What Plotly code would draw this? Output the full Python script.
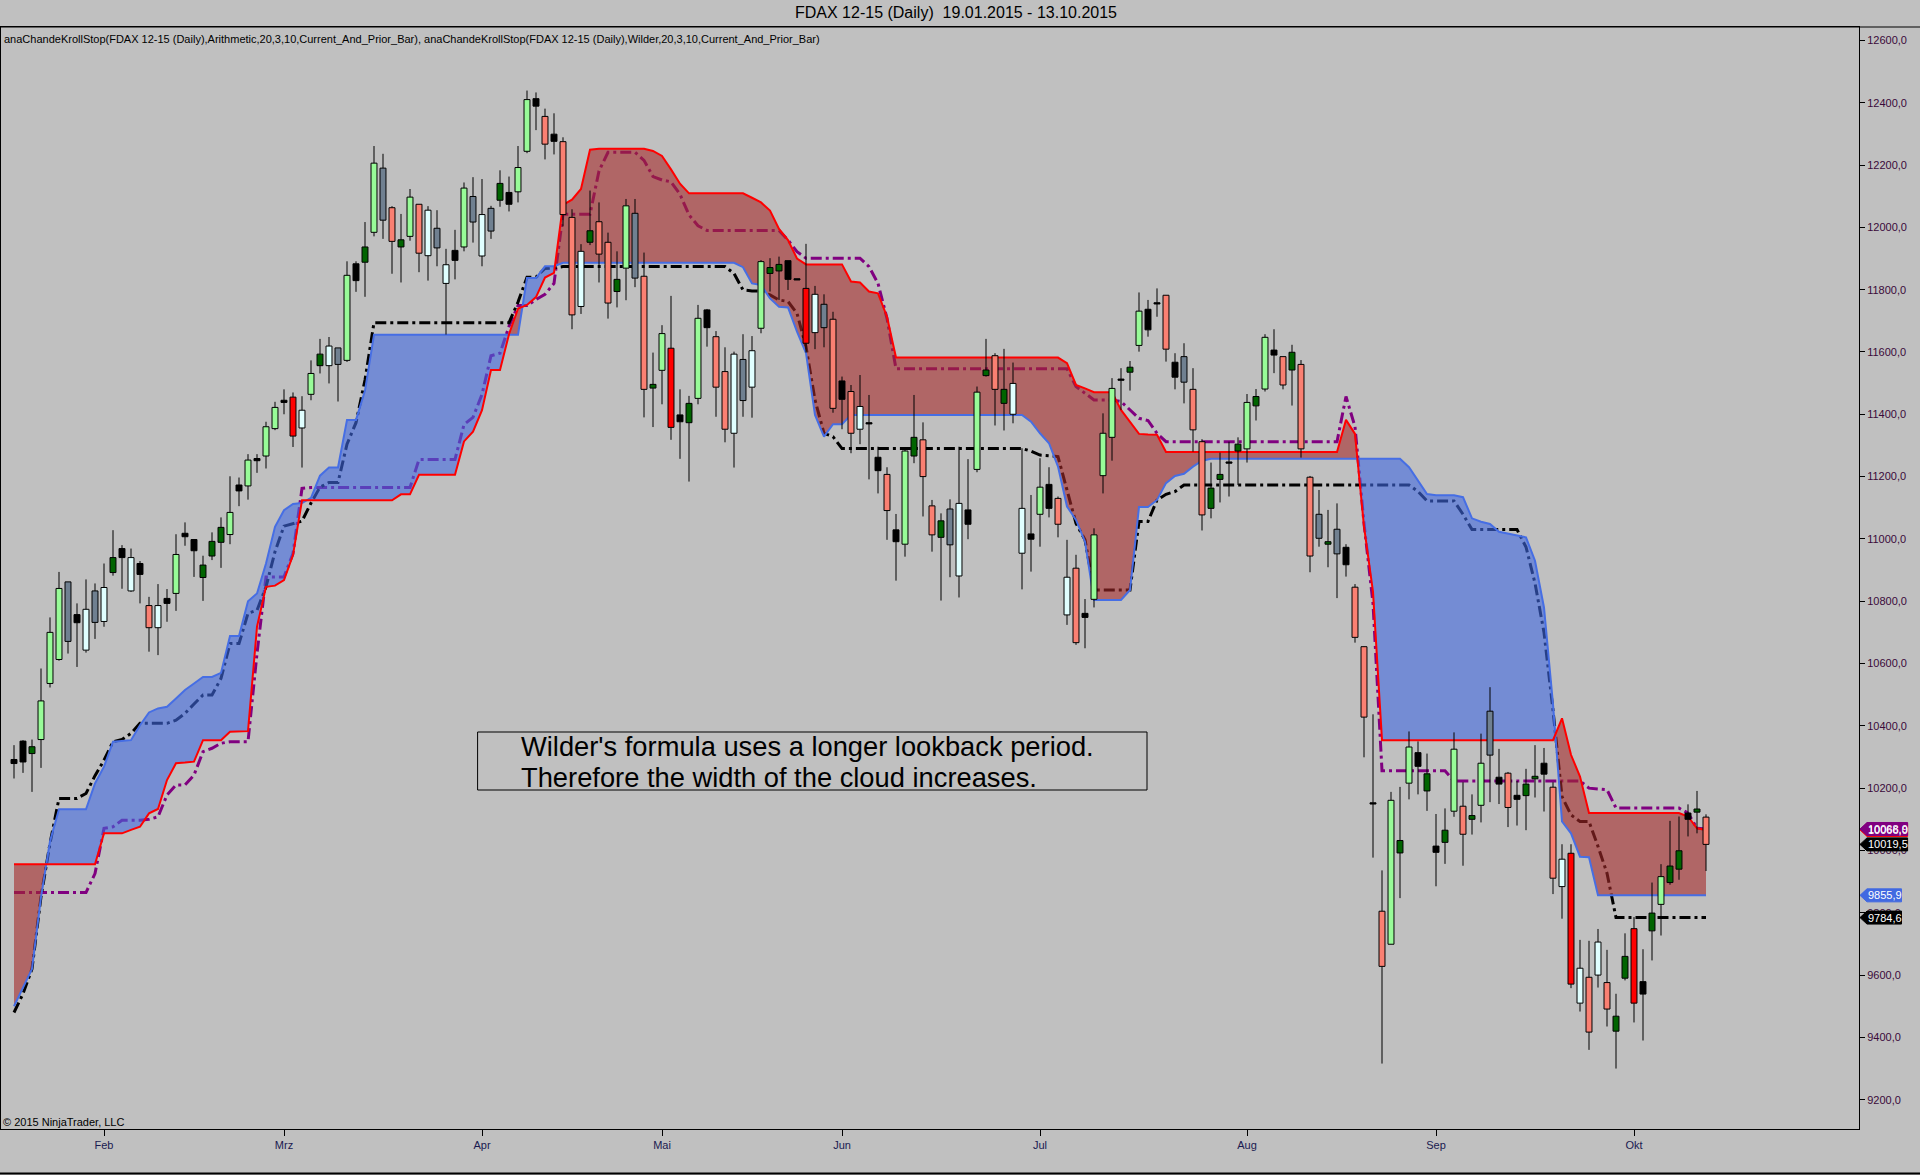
import numpy as np
import pandas as pd
import plotly.graph_objects as go

# ---------------- data ----------------
holidays = ["2015-04-03", "2015-04-06", "2015-05-01"]
dates = pd.bdate_range("2015-01-19", "2015-10-13")
dates = dates[~dates.isin(pd.to_datetime(holidays))]

month_names = {2: "Feb", 3: "Mrz", 4: "Apr", 5: "Mai", 6: "Jun", 7: "Jul", 8: "Aug", 9: "Sep", 10: "Okt"}

# candles: colour class, body top, body bottom, high, low
candle_class = ["k","k","dg","lg","lg","lg","sl","k","cy","sl","cy","dg","k","cy","k","sa","cy","k","lg","k",
 "k","dg","dg","dg","lg","k","lg","k","lg","lg","k","r","cy","lg","dg","cy","sl","lg","k","dg",
 "lg","sl","sa","dg","lg","sa","cy","sl","cy","k","lg","sl","cy","sl","dg","k","lg","lg","k","sa",
 "k","sa","sa","cy","dg","sa","sa","dg","lg","sl","sa","dg","lg","r","k","dg","lg","k","sa","sa",
 "cy","sl","cy","lg","dg","dg","k","k","r","cy","sl","sa","k","sa","cy","k","k","sa","k","lg",
 "dg","sa","sa","dg","sl","cy","k","lg","dg","sa","dg","cy","cy","k","lg","k","sa","cy","sa","k",
 "lg","lg","lg","k","dg","lg","k","k","sa","k","sl","sa","sa","dg","dg","k","dg","lg","dg","lg",
 "k","sa","dg","sa","sa","sl","dg","sl","k","sa","sa","k","sa","lg","dg","lg","k","dg","k","dg",
 "lg","sa","dg","lg","sl","k","sa","k","dg","dg","k","sa","cy","r","cy","sa","cy","sa","dg","dg",
 "r","k","dg","lg","dg","dg","k","dg","sa"]

body_top = [10292,10351,10333,10480,10700,10841,10862,10757,10774,10833,10844,10940,10969,10940,10921,10786,10786,10809,10950,11018,
 10998,10916,10992,11037,11085,11173,11253,11258,11360,11422,11445,11455,11413,11531,11593,11619,11613,11846,11883,11937,
 12206,12190,12063,11960,12097,12074,12055,11997,11880,11926,12126,12099,12041,12061,12141,12112,12192,12410,12413,12356,
 12299,12275,12032,11923,11989,12018,11952,11833,12069,12045,11843,11496,11659,11612,11398,11435,11708,11735,11649,11537,
 11593,11576,11604,11890,11871,11881,11893,11835,11804,11785,11753,11705,11507,11473,11425,11373,11262,11207,11029,11282,
 11326,11318,11106,11058,11096,11114,11093,11471,11542,11588,11480,11499,11098,11016,11166,11175,11130,10877,10906,10761,
 11013,11339,11483,11513,11551,11731,11737,11758,11782,11567,11585,11480,11312,11163,11207,11247,11304,11438,11457,11647,
 11606,11585,11599,11560,11198,11079,10991,11031,10973,10845,10654,10153,9805,10161,10032,10332,10314,10246,10014,10065,
 10325,10142,10112,10280,10447,10235,10248,10177,10213,10238,10280,10203,9972,9991,9622,9593,9706,9576,9468,9660,
 9749,9579,9799,9916,9950,9999,10120,10133,10107]

body_bottom = [10279,10284,10311,10356,10536,10613,10671,10731,10643,10732,10735,10892,10940,10833,10886,10715,10715,10793,10825,11007,
 10962,10876,10945,10989,11014,11154,11170,11251,11266,11354,11438,11330,11356,11464,11556,11556,11560,11573,11829,11888,
 11984,12023,11955,11937,11971,11917,11909,11934,11820,11894,11937,12017,11908,11988,12087,12074,12114,12244,12389,12267,
 12276,12041,11719,11746,11952,11914,11757,11794,11869,11837,11480,11484,11541,11358,11376,11373,11451,11678,11487,11352,
 11339,11444,11487,11676,11852,11860,11833,11831,11628,11662,11678,11419,11448,11339,11352,11369,11219,11091,10991,10983,
 11266,11200,11013,11005,10981,10881,11047,11223,11524,11480,11435,11400,10954,10999,11079,11098,11047,10756,10667,10748,
 10806,11203,11326,11509,11535,11621,11671,11754,11609,11519,11503,11350,11077,11098,11191,11243,11282,11289,11427,11481,
 11590,11494,11542,11289,10945,11002,10983,10952,10917,10684,10428,10149,9628,9699,9992,10216,10270,10191,9994,10026,
 10126,10052,10100,10145,10306,10213,10138,10164,10176,10230,10245,9911,9884,9571,9510,9417,9600,9491,9420,9590,
 9510,9539,9742,9827,9897,9940,10100,10123,10019.5]

highs = [10338,10354,10356,10584,10748,10894,10862,10793,10870,10857,10921,11028,10980,10969,10929,10814,10855,10839,11015,11053,
 10998,10946,11021,11069,11201,11197,11272,11272,11376,11440,11480,11470,11458,11573,11642,11648,11613,11891,11891,12017,
 12261,12236,12068,12043,12123,12074,12068,12055,11931,11992,12144,12161,12155,12069,12183,12163,12261,12439,12433,12381,
 12366,12289,12058,11946,12118,12080,11983,11923,12091,12091,11919,11598,11686,11780,11480,11459,11751,11738,11667,11615,
 11601,11657,11651,11895,11901,11906,11893,11835,11947,11812,11785,11729,11521,11494,11526,11462,11296,11230,11080,11291,
 11462,11374,11125,11082,11127,11296,11256,11489,11642,11596,11610,11566,11291,11141,11259,11230,11136,10997,10949,10807,
 11034,11403,11516,11548,11571,11791,11767,11804,11782,11596,11628,11548,11320,11245,11277,11312,11326,11465,11481,11657,
 11673,11585,11623,11574,11202,11157,11093,11114,10983,10855,10655,10437,9936,10188,10204,10382,10350,10311,10117,10135,
 10379,10219,10180,10375,10524,10326,10252,10223,10262,10338,10329,10219,10020,10020,9713,9710,9748,9681,9540,9734,
 9786,9683,9897,9956,10095,10109,10148,10191,10116]

lows = [10231,10249,10188,10265,10523,10609,10632,10589,10635,10679,10718,10882,10840,10830,10793,10638,10627,10734,10769,10978,
 10878,10801,10932,10907,10983,11105,11126,11212,11226,11349,11400,11295,11229,11445,11531,11499,11441,11568,11793,11777,
 11971,11963,11851,11823,11957,11856,11829,11875,11656,11833,11923,11951,11875,11963,12066,12051,12080,12238,12312,12218,
 12234,12003,11673,11722,11943,11823,11707,11743,11766,11808,11390,11359,11432,11318,11257,11184,11432,11617,11392,11310,
 11229,11392,11389,11660,11794,11767,11799,11831,11598,11609,11615,11405,11352,11275,11304,11191,11146,10997,10866,10943,
 11243,11072,10959,10802,10877,10812,10999,11214,11521,11364,11348,11371,10838,10895,10975,11069,11005,10724,10660,10649,
 10780,11146,11251,11414,11476,11601,11649,11713,11569,11480,11435,11280,11027,11066,11117,11136,11173,11245,11380,11473,
 11532,11480,11428,11261,10893,10975,10909,10810,10879,10667,10299,9977,9316,9699,9847,10164,10180,10127,9885,9957,
 10108,9951,10051,10090,10155,10149,10075,10080,10065,10170,10125,9860,9781,9558,9483,9360,9560,9435,9300,9583,
 9448,9390,9647,9727,9890,9906,10045,10055,9934]

# Arithmetic stop (solid red / blue)
stop_red = ([9956]*10 + [10055,10055,10055,10066,10076,10119,10133,10226,10280,10282,10285,10354,10354,10354,10381,10383,10383,
 10718,10846,10850,10868,10948] + [11124]*11 + [11143,11143] + [11206]*5 +
 [11313,11344,11413,11542,11542,11657,11739,11751,11776,11839,11854,12072,12089,12123,12249] + [12252]*6 +
 [12245,12229,12186,12140] + [12109]*7 + [12095,12080,12054,11995,11959,11900] + [11881]*5 +
 [11826,11823,11794,11788,11713] + [11582]*19 + [11564,11494,11483,11471,11471,11471,11414,11377,11337,11335,11334] +
 [11279]*20 + [11382,11337,11040,10830] + [10354]*20 + [10424,10307,10237] + [10120]*11 + [10109,10071,10066.0])

stop_blue = ([9500,9560,9620,9850,10030,10132,10132,10132,10132,10215,10269,10349,10352,10354,10402,10443,10456,10461,10488,10515,
 10536,10557,10557,10570,10688,10688,10800,10825,10921,11039,11092,11112,11115,11132,11203,11229,11229,11382,11382,11476] +
 [11655]*17 + [11837,11837,11875,11875] + [11886]*20 +
 [11872,11820,11815,11772,11745,11743,11665,11596,11398,11328,11368,11368] + [11398]*20 +
 [11376,11339,11307,11232,11104,11061,10991] + [10804]*4 + [10836,11102,11102,11125,11179,11202,11209,11232,11251] +
 [11257]*22 + [11230,11189,11144,11140,11140,11140,11134,11066,11055,11048,11023,11017,11010,11005,10930,10780,10470,
 10093,10055,9980,9978] + [9855.9]*13)

# Wilder stop (dash-dot purple / black)
stop_purple = ([9865]*9 + [9926,10071,10076,10097,10097,10097,10100,10108,10178,10210,10210,10242,10317,10328,10344,10349,10349,
 10349,10632,10878,10878,10878,10953,11162] + [11165]*12 + [11255]*5 +
 [11367,11390,11464,11588,11596,11682,11749,11749,11768,11785,11820] + [12042]*4 + [12181] + [12241]*4 +
 [12215,12163,12152,12146,12106,12040,12005] + [11990]*9 + [11959,11922] + [11901]*7 + [11874,11820,11708] +
 [11546]*20 + [11489,11467,11446,11446,11446,11441,11414,11387,11380,11339] + [11312]*20 +
 [11457,11360,11050,10793] + [10256]*8 + [10223]*15 + [10200,10197,10195] + [10136]*8 + [10120,10071,10068.9])

stop_black = ([9480,9540,9620,9851,10023,10167,10167,10167,10183,10240,10290,10349,10356,10376,10408,10408,10408,10408,10418,10440,
 10470,10499,10499,10552,10664,10664,10761,10771,10846,10959,11041,11050,11057,11115,11166,11181,11181,11304,11373,11510] +
 [11694]*16 + [11760,11840,11840,11868,11870] + [11874]*19 +
 [11852,11799,11796,11795,11783,11767,11762,11724,11617,11446,11339,11328] + [11290]*21 +
 [11282,11269,11267,11264,11157,11050,10997] + [10836]*5 + [11056,11056,11125,11143,11152] + [11173]*26 +
 [11152,11122,11122,11122,11122,11079] + [11030]*6 + [10974,10858,10700,10450,10173,10114,10093,10093,10013,9927] +
 [9784.6]*11)

y_ticks = list(range(9200, 12601, 200))

title_text = "FDAX 12-15 (Daily)  19.01.2015 - 13.10.2015"
header_text = ("anaChandeKrollStop(FDAX 12-15 (Daily),Arithmetic,20,3,10,Current_And_Prior_Bar), "
               "anaChandeKrollStop(FDAX 12-15 (Daily),Wilder,20,3,10,Current_And_Prior_Bar)")
note_lines = ["Wilder's formula uses a longer lookback period.", "Therefore the width of the cloud increases."]
copyright_text = "\u00a9 2015 NinjaTrader, LLC"

# ---------------- styles ----------------
BG = "#C0C0C0"
COLORS = {"k": "#000000", "dg": "#006400", "lg": "#98FB98", "cy": "#E0FFFF",
          "sa": "#FA8072", "r": "#FF0000", "sl": "#708090"}
FONT = "Liberation Sans, Arial, sans-serif"

n = len(dates)
x = np.arange(n, dtype=float)
R = np.array(stop_red, float); B = np.array(stop_blue, float)
P = np.array(stop_purple, float); K = np.array(stop_black, float)
O = np.array(body_top, float); C = np.array(body_bottom, float)
H = np.array(highs, float); L = np.array(lows, float)
assert len(R) == len(B) == len(P) == len(K) == len(O) == len(candle_class) == n

W, HGT = 1920, 1175
ML, MR, MT, MB = 1, 61, 27, 46
YMIN, YMAX = 9106, 12643
XMIN, XMAX = -1.444, 205.0
pw, ph = W - ML - MR, HGT - MT - MB

def px(xf):
    return (xf - ML) / pw

def py(yf):
    return (HGT - MB - yf) / ph

def pyv(v):
    return (v - YMIN) / (YMAX - YMIN)

fig = go.Figure()

dash = "11px,4px,3px,4px"
fig.add_trace(go.Scatter(x=x, y=P, mode="lines", line=dict(color="#800080", width=3, dash=dash), hoverinfo="skip"))
fig.add_trace(go.Scatter(x=x, y=K, mode="lines", line=dict(color="#000000", width=3, dash=dash), hoverinfo="skip"))

# cloud with crossing points inserted
xs, rs, bs = [], [], []
d = R - B
for i in range(n):
    xs.append(x[i]); rs.append(R[i]); bs.append(B[i])
    if i < n - 1 and d[i] * d[i + 1] < 0:
        t = d[i] / (d[i] - d[i + 1])
        xs.append(x[i] + t); rs.append(R[i] + t * (R[i + 1] - R[i])); bs.append(B[i] + t * (B[i + 1] - B[i]))
xs = np.array(xs); rs = np.array(rs); bs = np.array(bs)
top = np.maximum(rs, bs)
fig.add_trace(go.Scatter(x=xs, y=bs, mode="lines", line=dict(width=0), hoverinfo="skip"))
fig.add_trace(go.Scatter(x=xs, y=top, mode="lines", line=dict(width=0), fill="tonexty",
                         fillcolor="rgba(165,42,42,0.6)", hoverinfo="skip"))
fig.add_trace(go.Scatter(x=xs, y=rs, mode="lines", line=dict(width=0), hoverinfo="skip"))
fig.add_trace(go.Scatter(x=xs, y=top, mode="lines", line=dict(width=0), fill="tonexty",
                         fillcolor="rgba(65,105,225,0.6)", hoverinfo="skip"))

fig.add_trace(go.Scatter(x=x, y=B, mode="lines", line=dict(color="rgb(70,110,228)", width=2), hoverinfo="skip"))
fig.add_trace(go.Scatter(x=x, y=R, mode="lines", line=dict(color="#FF0000", width=2), hoverinfo="skip"))

# wicks
wx, wy = [], []
for i in range(n):
    bt, bb = max(O[i], C[i]), min(O[i], C[i])
    wx += [x[i], x[i], None, x[i], x[i], None]
    wy += [H[i], bt, None, bb, L[i], None]
fig.add_trace(go.Scatter(x=wx, y=wy, mode="lines", line=dict(color="#000000", width=1), hoverinfo="skip"))

# bodies
hw = 0.33
min_h = 4.0
for cls, col in COLORS.items():
    bx, by = [], []
    for i in range(n):
        if candle_class[i] != cls:
            continue
        bt, bb = max(O[i], C[i]), min(O[i], C[i])
        if bt - bb < min_h:
            mid = (bt + bb) / 2
            bt, bb = mid + min_h / 2, mid - min_h / 2
        bx += [x[i] - hw, x[i] + hw, x[i] + hw, x[i] - hw, x[i] - hw, None]
        by += [bb, bb, bt, bt, bb, None]
    fig.add_trace(go.Scatter(x=bx, y=by, mode="lines", fill="toself", fillcolor=col,
                             line=dict(color="#000000", width=1), hoverinfo="skip"))

# month ticks
tickvals, ticktext = [], []
for i in range(1, n):
    if dates[i].month != dates[i - 1].month:
        tickvals.append(i); ticktext.append(month_names[dates[i].month])

shapes = []
annotations = []

# top line across full width and bottom window line
shapes.append(dict(type="line", xref="paper", yref="paper", x0=px(0), x1=px(W), y0=1, y1=1,
                   line=dict(color="black", width=1)))
shapes.append(dict(type="line", xref="paper", yref="paper", x0=px(0), x1=px(W), y0=py(HGT - 1.5), y1=py(HGT - 1.5),
                   line=dict(color="black", width=2)))

# note box
shapes.append(dict(type="rect", xref="paper", yref="paper", x0=px(477.6), x1=px(1147), y0=py(790), y1=py(732),
                   line=dict(color="black", width=1), fillcolor="rgba(0,0,0,0)"))
for k, (line_txt, yf) in enumerate(zip(note_lines, [746, 777])):
    annotations.append(dict(xref="paper", yref="paper", x=px(519), y=py(yf), xanchor="left", yanchor="middle",
                            text=line_txt, showarrow=False, font=dict(family=FONT, size=27.3, color="black")))

annotations.append(dict(xref="paper", yref="paper", x=px(956), y=py(12), xanchor="center", yanchor="middle",
                        text=title_text, showarrow=False, font=dict(family=FONT, size=16, color="black")))
annotations.append(dict(xref="paper", yref="paper", x=px(2), y=py(39), xanchor="left", yanchor="middle",
                        text=header_text, showarrow=False, font=dict(family=FONT, size=11, color="black")))
annotations.append(dict(xref="paper", yref="paper", x=px(1), y=py(1122), xanchor="left", yanchor="middle",
                        text=copyright_text, showarrow=False, font=dict(family=FONT, size=11, color="black")))

# price markers on the right axis
def fmt(v):
    return f"{v:.1f}".replace(".", ",")

half = 6.5 * (YMAX - YMIN) / ph
markers = [(R[-1], "#FF0000"), (P[-1], "#800080"), (C[-1], "#000000"),
           (B[-1], "#4169E1"), (K[-1], "#000000")]
for val, col in markers:
    txt = fmt(val)
    x_end = 1867 + 6.1 * (len(txt) - 1) + 4
    yc = pyv(val)
    dy = half / (YMAX - YMIN)
    path = (f"M {px(1860)},{yc} L {px(1867)},{yc + dy} L {px(x_end)},{yc + dy} "
            f"L {px(x_end)},{yc - dy} L {px(1867)},{yc - dy} Z")
    shapes.append(dict(type="path", xref="paper", yref="paper", path=path, fillcolor=col,
                       line=dict(color=col, width=1)))
    annotations.append(dict(xref="paper", yref="paper", x=px(1866), y=yc, xanchor="left", yanchor="middle",
                            text=txt, showarrow=False, font=dict(family=FONT, size=11, color="white")))

fig.update_layout(
    width=W, height=HGT,
    margin=dict(l=ML, r=MR, t=MT, b=MB, pad=0),
    paper_bgcolor=BG, plot_bgcolor=BG,
    showlegend=False,
    shapes=shapes, annotations=annotations,
    xaxis=dict(range=[XMIN, XMAX], tickvals=tickvals, ticktext=ticktext, ticks="outside", ticklen=6,
               tickcolor="black", showgrid=False, zeroline=False, showline=True, linecolor="black",
               linewidth=1, mirror=True, tickfont=dict(family=FONT, size=11, color="#1a1a50")),
    yaxis=dict(range=[YMIN, YMAX], side="right", tickvals=y_ticks, ticktext=[fmt(v) for v in y_ticks],
               ticks="outside", ticklen=5, tickcolor="black", showgrid=False, zeroline=False,
               showline=True, linecolor="black", linewidth=1, mirror=True,
               tickfont=dict(family=FONT, size=11, color="#3a0a3a")),
)

fig.write_html("out.html", config={"displayModeBar": False},
               post_script="document.body.style.margin='0px';document.body.style.overflow='hidden';"
                           "document.body.style.background='#C0C0C0';")
